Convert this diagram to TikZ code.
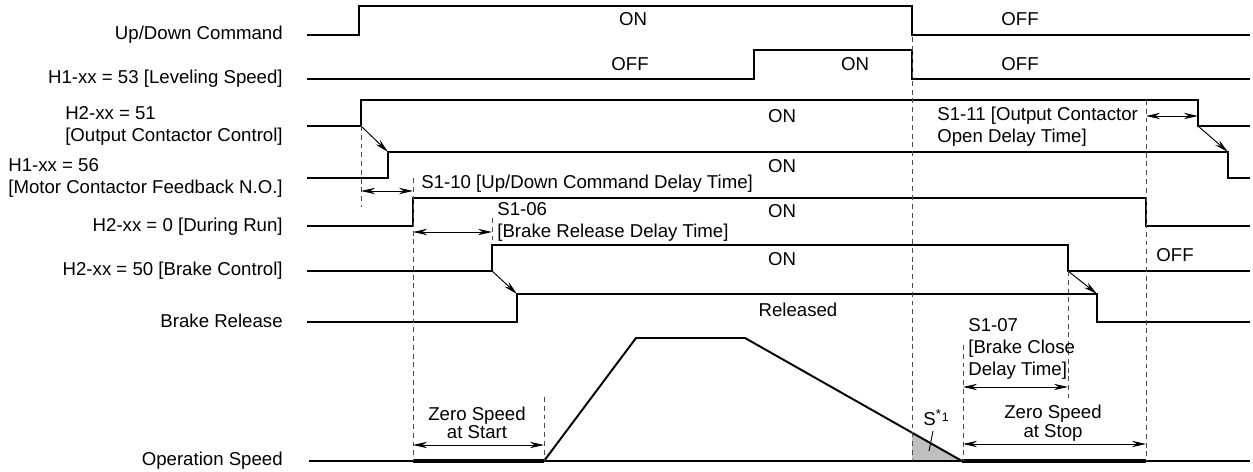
\documentclass[tikz,border=0pt]{standalone}
\usepackage{fontspec}
\setmainfont{Liberation Sans}
\usetikzlibrary{arrows.meta}

\tikzset{
  sig/.style={line width=1.1pt},
  bold/.style={line width=2.6pt},
  dsh/.style={line width=0.5pt, black!70, dash pattern=on 2.8pt off 2.2pt},
  tim/.style={{Stealth[length=8pt,width=3.6pt]}-{Stealth[length=8pt,width=3.6pt]}, line width=0.55pt},
  cue/.style={-{Stealth[length=8pt,width=3.6pt]}, line width=0.55pt},
  lbl/.style={anchor=east, inner sep=0pt, align=left},
  txt/.style={inner sep=0pt}
}

\begin{document}
\begin{tikzpicture}[x=0.02cm,y=-0.02cm,font=\fontsize{10.6}{12.5}\selectfont]
    \useasboundingbox (0,0) rectangle (1253,472);
    % signal names
    \node[lbl] (ud) at (283,35) {Up/Down Command};
    \node[lbl] (lv) at (283,79) {H1-xx = 53 [Leveling Speed]};
    \node[lbl] (oc) at (283,126) {H2-xx = 51\\{[Output Contactor Control]}};
    \node[lbl] (mc) at (283,178) {H1-xx = 56\\{[Motor Contactor Feedback N.O.]}};
    \node[lbl] (dr) at (283,227) {H2-xx = 0 [During Run]};
    \node[lbl] (bc) at (283,271) {H2-xx = 50 [Brake Control]};
    \node[lbl] (br) at (283,321) {Brake Release};
    \node[lbl] (os) at (283,461) {Operation Speed};
    % waveforms
    \draw[sig] (307,35) -- (359,35) -- (359,6) -- (912,6) -- (912,35) -- (1250,35);
    \draw[sig] (307,79) -- (754,79) -- (754,50) -- (912,50) -- (912,79) -- (1250,79);
    \draw[sig] (307,126) -- (361,126) coordinate (ocOn) -- (361,100) -- (1198,100)
      -- (1198,126) coordinate (ocOff) -- (1250,126);
    \draw[sig] (307,178) -- (388,178) -- (388,152) coordinate (mcOn) -- (1228,152) coordinate (mcOff)
      -- (1228,178) -- (1250,178);
    \draw[sig] (307,226) -- (413,226) -- (413,198) -- (1146,198) -- (1146,226) -- (1250,226);
    \draw[sig] (307,271) -- (492,271) coordinate (bcOn) -- (492,245) -- (1068,245)
      -- (1068,271) coordinate (bcOff) -- (1250,271);
    \draw[sig] (307,322) -- (517,322) -- (517,294) coordinate (brOn) -- (1097,294) coordinate (brOff)
      -- (1097,322) -- (1250,322);
    \draw[cue] (ocOn) -- (mcOn);
    \draw[cue] (ocOff) -- (mcOff);
    \draw[cue] (bcOn) -- (brOn);
    \draw[cue] (bcOff) -- (brOff);
    % speed
    \fill[black!25] (912,432) -- (912,461) -- (962,461) -- cycle;
    \draw[sig] (309,461) -- (1250,461);
    \draw[sig] (544,461) -- (636,338) -- (745,338) -- (962,461);
    \draw[bold] (413,461) -- (544,461);
    \draw[bold] (962,461) -- (1146,461);
    % time marks
    \foreach \x/\a/\b in {361/126/207, 413/178/461, 492/218/244, 544/397/461,
                          912/37/461, 963/345/461, 1068/271/398, 1146/100/461}
    \draw[dsh] (\x,\a) -- (\x,\b);
    \foreach \n/\a/\b/\y in {a/361/413/191, b/413/492/232, c/1146/1198/116,
                             d/963/1068/387, e/413/544/445, f/963/1146/444}{
      \coordinate (\n1) at (\a,\y);
      \coordinate (\n2) at (\b,\y);
      \draw[tim] (\n1) -- (\n2);
    }
    % states
    \foreach \x/\y/\t in {633/19/ON, 1020/19/OFF, 630/64/OFF, 855/64/ON, 1020/64/OFF,
                          782/116/ON, 782/166/ON, 782/211/ON, 782/259/ON, 1175/255/OFF}
    \node[txt] (st\x-\y) at (\x,\y) {\t};
    \node[txt] (rel) at (798,310) {Released};
    % delay names
    \node[txt,anchor=west] (d110) at (421,184) {S1-10 [Up/Down Command Delay Time]};
    \node[txt,anchor=west,align=left] (d106) at (497,222) {S1-06\\{[Brake Release Delay Time]}};
    \node[txt,anchor=west,align=left] (d111) at (937,127) {S1-11 [Output Contactor\\Open Delay Time]};
    \node[txt,anchor=west,align=left] (d107) at (968,349) {S1-07\\{[Brake Close}\\Delay Time]};
    \node[txt,align=center,font=\fontsize{10.6}{9}\selectfont] (zss) at (477,423) {Zero Speed\\at Start};
    \node[txt,align=center,font=\fontsize{10.6}{9}\selectfont] (zsp) at (1053,423) {Zero Speed\\at Stop};
    \node[txt] (sx) at (936,418) {S\textsuperscript{*}\raisebox{0.4ex}{\scriptsize 1}};
    \coordinate (sArea) at (929,451);
    \draw[line width=0.5pt] (933,431) -- (sArea);
\end{tikzpicture}
\end{document}
